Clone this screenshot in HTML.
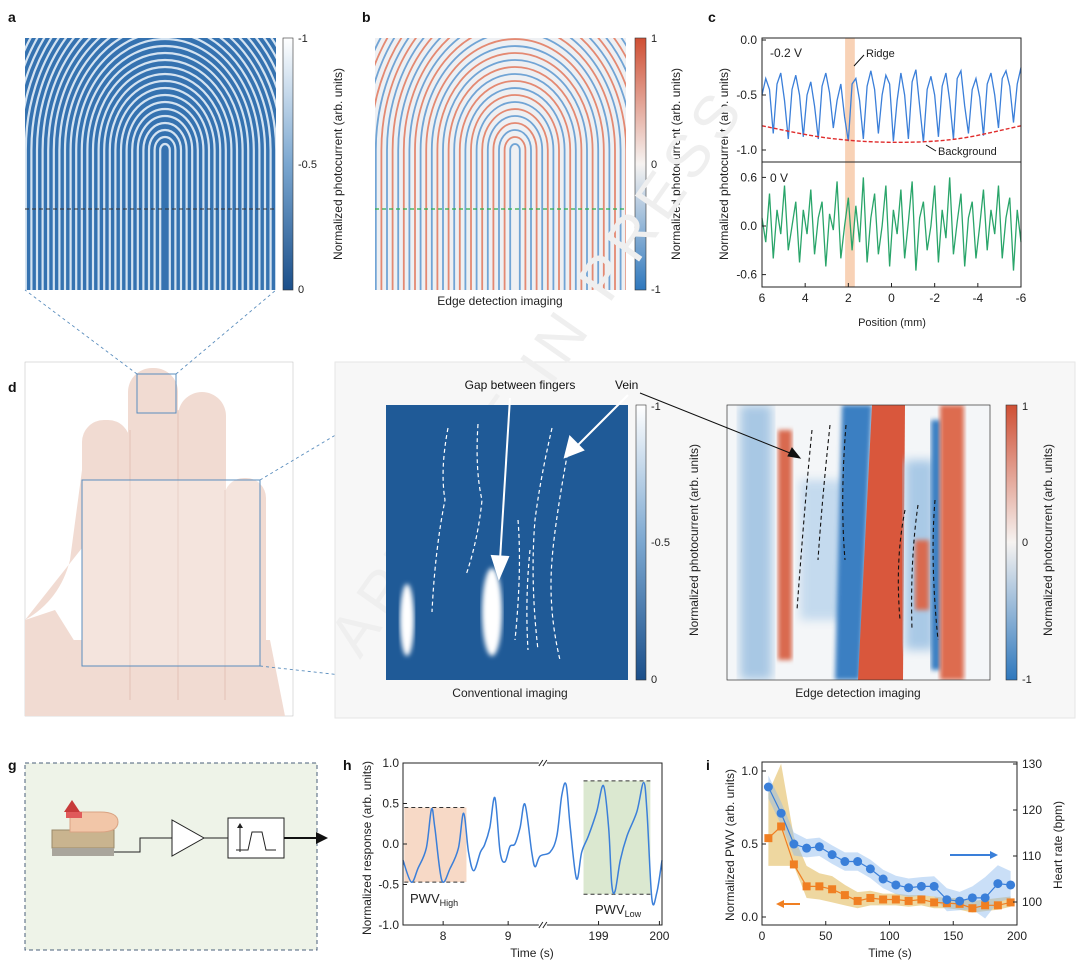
<!DOCTYPE html>
<html><head><meta charset="utf-8"><style>
body{margin:0;background:#fff;}
svg{display:block;font-family:"Liberation Sans",Arial,sans-serif;}
</style></head><body>
<svg id="fig" width="1080" height="974" viewBox="0 0 1080 974">
<defs>
<linearGradient id="cbA" x1="0" y1="0" x2="0" y2="1"><stop offset="0" stop-color="#ffffff"/><stop offset="0.5" stop-color="#7ba7d0"/><stop offset="1" stop-color="#1b4f8a"/></linearGradient>
<linearGradient id="cbB" x1="0" y1="0" x2="0" y2="1"><stop offset="0" stop-color="#cf4f34"/><stop offset="0.5" stop-color="#f6f3f1"/><stop offset="1" stop-color="#2f78bd"/></linearGradient>
<clipPath id="clipA"><rect x="25" y="38" width="251" height="252"/></clipPath>
<clipPath id="clipB"><rect x="375" y="38" width="251" height="252"/></clipPath>
<clipPath id="clipF"><rect x="727" y="405" width="263" height="275"/></clipPath>
<filter id="blur2"><feGaussianBlur stdDeviation="2.5"/></filter>
<filter id="blur4"><feGaussianBlur stdDeviation="5"/></filter>
</defs>

<!-- panel labels -->
<g font-size="14" font-weight="bold" fill="#111">
<text x="8" y="22">a</text>
<text x="362" y="22">b</text>
<text x="708" y="22">c</text>
<text x="8" y="392">d</text>
<text x="345" y="410">e</text>
<text x="700" y="410">f</text>
<text x="8" y="770">g</text>
<text x="343" y="770">h</text>
<text x="706" y="770">i</text>
</g>

<!-- panel a -->
<g>
<rect x="25" y="38" width="251" height="252" fill="#3572b0"/>
<g id="ridgesA" clip-path="url(#clipA)" fill="none" stroke="#e6f0f9" stroke-width="2.2" opacity="0.9"></g>
<line x1="25" y1="209" x2="276" y2="209" stroke="#333" stroke-dasharray="4,3" stroke-width="1"/>
</g>
<rect x="283" y="38" width="10" height="252" fill="url(#cbA)" stroke="#333" stroke-width="0.6"/>
<g font-size="11" fill="#222">
<text x="298" y="42">-1</text><text x="298" y="168">-0.5</text><text x="298" y="293">0</text>
<text transform="translate(342 164) rotate(-90)" text-anchor="middle" font-size="12">Normalized photocurrent (arb. units)</text>
</g>

<!-- panel b -->
<g>
<rect x="375" y="38" width="251" height="252" fill="#eef0f3"/>
<g id="ridgesB" clip-path="url(#clipB)" fill="none" stroke-width="1.8"></g>
<line x1="375" y1="209" x2="626" y2="209" stroke="#2fae4e" stroke-dasharray="4,3" stroke-width="1.2"/>
</g>
<rect x="635" y="38" width="11" height="252" fill="url(#cbB)" stroke="#333" stroke-width="0.6"/>
<g font-size="11" fill="#222">
<text x="651" y="42">1</text><text x="651" y="168">0</text><text x="651" y="293">-1</text>
<text transform="translate(680 164) rotate(-90)" text-anchor="middle" font-size="12">Normalized photocurrent (arb. units)</text>
<text x="500" y="305" text-anchor="middle" font-size="12">Edge detection imaging</text>
</g>

<!-- panel c -->
<g id="panelC"></g>

<!-- panel d hand -->
<g>
<rect x="25" y="362" width="268" height="354" fill="#ffffff" stroke="#bbb" stroke-width="0.5"/>
<g fill="#f1dbd2">
<path d="M25 620 Q60 600 70 560 L82 470 Q90 430 110 440 L120 500 Z"/>
<rect x="82" y="420" width="48" height="290" rx="22"/>
<rect x="128" y="368" width="50" height="340" rx="24"/>
<rect x="178" y="392" width="48" height="320" rx="24"/>
<rect x="224" y="478" width="42" height="230" rx="20"/>
<path d="M25 640 L80 640 L270 640 L285 716 L25 716 Z"/>
<path d="M25 620 L55 610 L80 650 L25 680Z"/>
</g>
<g fill="none" stroke="#dcb8ab" stroke-width="1" opacity="0.7">
<line x1="130" y1="430" x2="130" y2="700"/><line x1="178" y1="410" x2="178" y2="700"/><line x1="225" y1="490" x2="225" y2="700"/>
</g>
<rect x="137" y="374" width="39" height="39" fill="none" stroke="#5a8dbd" stroke-width="1"/>
<rect x="82" y="480" width="178" height="186" fill="rgba(255,255,255,0.25)" stroke="#5a8dbd" stroke-width="1"/>
<g stroke="#5a8dbd" stroke-dasharray="3,3" stroke-width="0.9">
<line x1="137" y1="374" x2="25" y2="290"/><line x1="176" y1="374" x2="276" y2="290"/>
<line x1="260" y1="480" x2="386" y2="405"/><line x1="260" y1="666" x2="386" y2="680"/>
</g>
</g>

<!-- gray panel -->
<rect x="335" y="362" width="740" height="356" fill="#f7f7f7" stroke="#e6e6e6"/>

<!-- watermark -->
<text x="360" y="660" transform="rotate(-55 360 660)" font-size="60" fill="#efefef" letter-spacing="8">ARTICLE IN PRESS</text>

<!-- panel e -->
<g>
<rect x="386" y="405" width="242" height="275" fill="#1f5a97"/>
<ellipse cx="407" cy="620" rx="7" ry="36" fill="#fff" filter="url(#blur2)"/>
<ellipse cx="492" cy="612" rx="10" ry="44" fill="#fff" filter="url(#blur2)"/>
<g fill="none" stroke="#fff" stroke-dasharray="4,3" stroke-width="1.2">
<path d="M448 428 Q440 470 445 500 Q435 550 432 612"/>
<path d="M478 424 Q475 470 482 500 Q478 540 466 575"/>
<path d="M518 520 Q522 570 515 640"/>
<path d="M552 428 Q540 480 535 520 Q530 580 538 650"/>
<path d="M570 440 Q555 520 552 560 Q548 610 560 660"/>
<path d="M530 550 Q525 600 528 650"/>
</g>
<g stroke="#fff" stroke-width="2" fill="#fff">
<line x1="510" y1="398" x2="500" y2="560"/><polygon points="492,556 508,557 499,578"/>
<line x1="628" y1="395" x2="578" y2="445"/><polygon points="570,437 583,450 565,457"/>
</g>
</g>
<text x="520" y="389" text-anchor="middle" font-size="12" fill="#111">Gap between fingers</text>
<text x="615" y="389" font-size="12" fill="#111">Vein</text>
<rect x="636" y="405" width="10" height="275" fill="url(#cbA)" stroke="#333" stroke-width="0.6"/>
<g font-size="11" fill="#222">
<text x="651" y="410">-1</text><text x="651" y="546">-0.5</text><text x="651" y="683">0</text>
<text x="510" y="697" text-anchor="middle" font-size="12">Conventional imaging</text>
<text transform="translate(698 540) rotate(-90)" text-anchor="middle" font-size="12">Normalized photocurrent (arb. units)</text>
</g>

<!-- panel f -->
<g clip-path="url(#clipF)">
<rect x="727" y="405" width="263" height="275" fill="#f4f6f8"/>
<rect x="740" y="405" width="32" height="275" fill="#a8c8e4" filter="url(#blur4)"/>
<rect x="778" y="430" width="14" height="230" fill="#d96a50" filter="url(#blur2)"/>
<rect x="800" y="480" width="50" height="140" fill="#c4daee" filter="url(#blur4)"/>
<path d="M842 405 L872 405 L860 680 L835 680 Z" fill="#3a7fc2" filter="url(#blur2)"/>
<path d="M872 405 L905 405 L903 680 L858 680 Z" fill="#d9573c"/>
<rect x="905" y="460" width="30" height="190" fill="#a9c9e6" filter="url(#blur4)"/>
<rect x="915" y="540" width="14" height="70" fill="#d96a50" filter="url(#blur2)"/>
<rect x="931" y="420" width="10" height="250" fill="#3a7fc2" filter="url(#blur2)"/>
<rect x="940" y="405" width="24" height="275" fill="#dd6c50" filter="url(#blur2)"/>
<g fill="none" stroke="#111" stroke-dasharray="4,3" stroke-width="1.1">
<path d="M812 430 Q805 500 797 610"/><path d="M830 425 Q822 500 818 560"/>
<path d="M846 425 Q840 500 845 560"/>
<path d="M905 510 Q895 560 900 620"/><path d="M918 505 Q910 560 912 630"/><path d="M935 500 Q930 560 938 640"/>
</g>
</g>
<rect x="727" y="405" width="263" height="275" fill="none" stroke="#333" stroke-width="0.7"/>
<g stroke="#111" stroke-width="1" fill="#111">
<line x1="640" y1="393" x2="795" y2="455"/><polygon points="800,458 788,456 792,448"/>
</g>
<rect x="1006" y="405" width="11" height="275" fill="url(#cbB)" stroke="#333" stroke-width="0.6"/>
<g font-size="11" fill="#222">
<text x="1022" y="410">1</text><text x="1022" y="546">0</text><text x="1022" y="683">-1</text>
<text x="858" y="697" text-anchor="middle" font-size="12">Edge detection imaging</text>
<text transform="translate(1052 540) rotate(-90)" text-anchor="middle" font-size="12">Normalized photocurrent (arb. units)</text>
</g>

<!-- panel g -->
<g>
<rect x="25" y="763" width="292" height="187" fill="#eef3e8" stroke="#4a5f7a" stroke-dasharray="4,3" stroke-width="1"/>
<rect x="52" y="830" width="62" height="18" fill="#c9b48f" stroke="#9b8a6a"/>
<rect x="52" y="848" width="62" height="8" fill="#a9a59c"/>
<path d="M70 812 L100 812 Q118 812 118 822 Q118 832 100 832 L70 832 Z" fill="#f2c6a8" stroke="#d9a383"/>
<path d="M72 800 L80 812 L64 812 Z" fill="#c73a3a"/>
<rect x="66" y="812" width="16" height="6" fill="#e05a5a"/>
<polyline points="114,852 140,852 140,838 172,838" fill="none" stroke="#222"/>
<polygon points="172,820 172,856 204,838" fill="#fff" stroke="#222"/>
<line x1="204" y1="838" x2="228" y2="838" stroke="#222"/>
<rect x="228" y="818" width="56" height="40" fill="#fff" stroke="#222"/>
<path d="M236 850 L248 850 L252 832 L262 832 L266 850 L276 850" fill="none" stroke="#222"/>
<line x1="240" y1="852" x2="240" y2="826" stroke="#222"/><polygon points="237,828 243,828 240,823" fill="#222"/>
<line x1="284" y1="838" x2="318" y2="838" stroke="#111" stroke-width="2"/>
<polygon points="316,832 328,838 316,844" fill="#111"/>
</g>

<g id="panelH"></g>
<g id="panelI"></g>
</svg>

<script>
// ===== Panel c data =====
const cPosStart = 6, cPosEnd = -6;
const cTopValues = [-0.5,-0.35,-0.45,-0.85,-0.4,-0.3,-0.55,-0.9,-0.45,-0.32,-0.5,-0.88,-0.5,-0.38,-0.6,-0.9,-0.42,-0.3,-0.48,-0.8,-0.55,-0.4,-0.7,-0.92,-0.4,-0.35,-0.55,-0.9,-0.42,-0.28,-0.45,-0.85,-0.5,-0.32,-0.4,-0.92,-0.55,-0.3,-0.5,-0.9,-0.38,-0.27,-0.6,-0.93,-0.45,-0.33,-0.5,-0.88,-0.42,-0.3,-0.55,-0.9,-0.35,-0.28,-0.6,-0.85,-0.45,-0.35,-0.52,-0.87,-0.4,-0.3,-0.5,-0.8,-0.35,-0.28,-0.42,-0.75,-0.4,-0.25];
const cBottomValues = [0.1,-0.2,0.4,-0.4,0.2,-0.1,0.5,-0.3,0.0,0.3,-0.45,0.2,-0.1,0.45,-0.35,0.1,0.3,-0.5,0.15,-0.05,0.55,-0.4,0.0,0.35,-0.3,0.25,-0.2,0.6,-0.45,0.1,0.4,-0.35,0.0,0.5,-0.5,0.2,-0.1,0.45,-0.4,0.05,0.55,-0.55,0.1,0.3,-0.3,0.0,0.5,-0.45,0.2,-0.15,0.6,-0.35,0.05,0.4,-0.5,0.1,0.3,-0.4,0.0,0.45,-0.3,0.2,-0.1,0.5,-0.4,0.1,0.35,-0.55,0.2,-0.2];
const cBgPos = [6,3,0,-3,-6];
const cBgVal = [-0.78,-0.89,-0.93,-0.9,-0.78];
const cXTicks = [6,4,2,0,-2,-4,-6];
const cTopTicks = [0.0,-0.5,-1.0];
const cTopTickLabels = ["0.0","-0.5","-1.0"];
const cBotTicks = [0.6,0.0,-0.6];
const cBotTickLabels = ["0.6","0.0","-0.6"];
const cRidgeBand = [2.15,1.7];

// ===== Panel h data =====
const hT = [0,3.2,5.8,9,11,12.3,15,18.2,21.4,23.4,25.3,27.3,29.9,31.5,33.5,35.5,37.5,39.4,41.3,43.2,45.2,47.1,49.7,51,52.9,56.8,59.4,61.3,63,64.6,67,69,71.6,74.8,77.4,79.4,80.6,81.9,83.9,86.5,90.3,92.9,94.2,96.1,98,100];
const hResp = [-0.2,-0.47,-0.3,-0.05,0.43,0.2,-0.45,-0.3,-0.05,0.38,-0.1,-0.33,-0.1,-0.01,0.2,0.57,-0.1,-0.22,-0.03,0.0,0.2,0.49,-0.1,-0.28,-0.15,-0.1,0.1,0.6,0.73,0.2,-0.43,-0.1,0.1,0.4,0.72,0.2,-0.5,-0.58,-0.2,0.1,0.4,0.76,0.4,-0.68,-0.6,-0.2];
const hYTicks = [1.0,0.5,0.0,-0.5,-1.0];
const hYTickLabels = ["1.0","0.5","0.0","-0.5","-1.0"];
const hXTickPos = [15.5,40.6,75.5,99];
const hXTickLabels = ["8","9","199","200"];

// ===== Panel i data =====
const iTime = [5,15,25,35,45,55,65,75,85,95,105,115,125,135,145,155,165,175,185,195];
const iPWV = [0.54,0.62,0.36,0.21,0.21,0.19,0.15,0.11,0.13,0.12,0.12,0.11,0.12,0.10,0.095,0.09,0.06,0.08,0.08,0.10];
const iPWVUpper = [0.85,1.05,0.55,0.35,0.3,0.28,0.22,0.17,0.18,0.16,0.16,0.15,0.15,0.14,0.13,0.13,0.11,0.12,0.13,0.14];
const iPWVLower = [0.35,0.35,0.35,0.13,0.12,0.1,0.08,0.06,0.08,0.08,0.08,0.07,0.08,0.06,0.06,0.05,0.03,0.04,0.05,0.07];
const iHR = [125,119.3,112.6,111.7,112,110.3,108.8,108.8,107.2,105,103.7,103.1,103.4,103.4,100.5,100.2,100.9,100.9,104,103.7];
const iHRErr = [2.5,2.5,2.5,2,2,2,2,2,2,2,2,2,2,2.2,2.5,2,2.5,4.5,4,3];
const iXTicks = [0,50,100,150,200];
const iLeftTicks = [0.0,0.5,1.0];
const iLeftTickLabels = ["0.0","0.5","1.0"];
const iRightTicks = [100,110,120,130];

const NS = "http://www.w3.org/2000/svg";
function mk(parent, tag, attrs){const e=document.createElementNS(NS,tag);for(const k in attrs)e.setAttribute(k,attrs[k]);parent.appendChild(e);return e;}
function txt(parent,x,y,s,attrs){const e=mk(parent,'text',Object.assign({x:x,y:y,'font-size':11,fill:'#222'},attrs||{}));e.textContent=s;return e;}
function smooth(pts){let d='M'+pts[0][0]+' '+pts[0][1];for(let i=0;i<pts.length-1;i++){const p0=pts[i-1]||pts[i],p1=pts[i],p2=pts[i+1],p3=pts[i+2]||p2;d+=' C'+(p1[0]+(p2[0]-p0[0])/6)+' '+(p1[1]+(p2[1]-p0[1])/6)+' '+(p2[0]-(p3[0]-p1[0])/6)+' '+(p2[1]-(p3[1]-p1[1])/6)+' '+p2[0]+' '+p2[1];}return d;}

// fingerprint textures
(function(){
  const gA=document.getElementById('ridgesA'), gB=document.getElementById('ridgesB');
  for(let i=0;i<40;i++){
    const r=6+i*7;
    const dA=`M${165-r*0.8} 330 L${165-r*0.8} 150 A${r*0.8} ${r} 0 0 1 ${165+r*0.8} 150 L${165+r*0.8} 330`;
    mk(gA,'path',{d:dA});
    const ox=350;
    const dB=`M${ox+165-r*0.8} 330 L${ox+165-r*0.8} 150 A${r*0.8} ${r} 0 0 1 ${ox+165+r*0.8} 150 L${ox+165+r*0.8} 330`;
    mk(gB,'path',{d:dB,stroke:i%2?'#e2775a':'#5b97cf',opacity:0.85});
  }
})();

// Panel c
(function(){
  const g=document.getElementById('panelC');
  const x0=762,x1=1021;
  const X=v=>x0+(cPosStart-v)/(cPosStart-cPosEnd)*(x1-x0);
  const Yt=v=>40-v*110;
  const Yb=v=>226-v*81;
  const band=mk(g,'rect',{x:X(cRidgeBand[0]),y:38,width:X(cRidgeBand[1])-X(cRidgeBand[0]),height:249,fill:'#f6c7a4',opacity:0.8});
  
  
  const n1=cTopValues.length;
  const pt=cTopValues.map((v,i)=>[X(cPosStart+(cPosEnd-cPosStart)*i/(n1-1)),Yt(v)]);
  const l1=mk(g,'path',{d:'M'+pt.map(p=>p.join(' ')).join(' L'),fill:'none',stroke:'#3b7fd9','stroke-width':1.3});
  
  
  const bg=mk(g,'path',{d:smooth(cBgPos.map((p,i)=>[X(p),Yt(cBgVal[i])])),fill:'none',stroke:'#e02c2c','stroke-width':1.4,'stroke-dasharray':'4,2'});
  
  
  const n2=cBottomValues.length;
  const pb=cBottomValues.map((v,i)=>[X(cPosStart+(cPosEnd-cPosStart)*i/(n2-1)),Yb(v)]);
  const l2=mk(g,'path',{d:'M'+pb.map(p=>p.join(' ')).join(' L'),fill:'none',stroke:'#2aa56a','stroke-width':1.3});
  
  
  mk(g,'rect',{x:x0,y:38,width:x1-x0,height:249,fill:'none',stroke:'#222'});
  mk(g,'line',{x1:x0,y1:162,x2:x1,y2:162,stroke:'#222'});
  cTopTicks.forEach((v,i)=>{mk(g,'line',{x1:x0,y1:Yt(v),x2:x0+4,y2:Yt(v),stroke:'#222'});txt(g,x0-5,Yt(v)+4,cTopTickLabels[i],{'text-anchor':'end','font-size':12});});
  cBotTicks.forEach((v,i)=>{mk(g,'line',{x1:x0,y1:Yb(v),x2:x0+4,y2:Yb(v),stroke:'#222'});txt(g,x0-5,Yb(v)+4,cBotTickLabels[i],{'text-anchor':'end','font-size':12});});
  cXTicks.forEach(v=>{mk(g,'line',{x1:X(v),y1:287,x2:X(v),y2:283,stroke:'#222'});txt(g,X(v),302,String(v),{'text-anchor':'middle','font-size':12});});
  txt(g,892,326,'Position (mm)',{'text-anchor':'middle'});
  txt(g,0,0,'Normalized photocurrent (arb. units)',{transform:'translate(728 164) rotate(-90)','text-anchor':'middle','font-size':12});
  txt(g,770,57,'-0.2 V',{'font-size':12});txt(g,770,182,'0 V',{'font-size':12});
  txt(g,866,57,'Ridge');txt(g,938,155,'Background');
  mk(g,'line',{x1:864,y1:55,x2:854,y2:66,stroke:'#111'});
  mk(g,'line',{x1:936,y1:151,x2:926,y2:145,stroke:'#111'});
})();

// Panel h
(function(){
  const g=document.getElementById('panelH');
  const x0=403,x1=662,y0=763,y1=925;
  const X=u=>x0+u/100*(x1-x0);
  const Y=v=>(y0+y1)/2-v*(y1-y0)/2;
  const r1=mk(g,'rect',{x:X(0.5),y:Y(0.45),width:X(24.5)-X(0.5),height:Y(-0.47)-Y(0.45),fill:'#f7d9c6'});
  
  
  const r2=mk(g,'rect',{x:X(69.7),y:Y(0.78),width:X(95.5)-X(69.7),height:Y(-0.62)-Y(0.78),fill:'#dbe8d0'});
  
  
  [[0.5,24.5,0.45],[0.5,24.5,-0.47],[69.7,95.5,0.78],[69.7,95.5,-0.62]].forEach(a=>mk(g,'line',{x1:X(a[0]),x2:X(a[1]),y1:Y(a[2]),y2:Y(a[2]),stroke:'#333','stroke-dasharray':'4,3'}));
  const line=mk(g,'path',{d:smooth(hT.map((t,i)=>[X(t),Y(hResp[i])])),fill:'none',stroke:'#3b7fd9','stroke-width':1.5});
  
  
  mk(g,'rect',{x:x0,y:y0,width:x1-x0,height:y1-y0,fill:'none',stroke:'#222'});
  hYTicks.forEach((v,i)=>{mk(g,'line',{x1:x0,y1:Y(v),x2:x0+4,y2:Y(v),stroke:'#222'});txt(g,x0-4,Y(v)+4,hYTickLabels[i],{'text-anchor':'end','font-size':12});});
  hXTickPos.forEach((u,i)=>{mk(g,'line',{x1:X(u),y1:y1,x2:X(u),y2:y1-4,stroke:'#222'});txt(g,X(u),y1+15,hXTickLabels[i],{'text-anchor':'middle','font-size':12});});
  [[X(54),y0],[X(54),y1]].forEach(p=>{mk(g,'rect',{x:p[0]-4,y:p[1]-4,width:8,height:8,fill:'#fff'});mk(g,'line',{x1:p[0]-4,y1:p[1]+3,x2:p[0],y2:p[1]-3,stroke:'#222'});mk(g,'line',{x1:p[0],y1:p[1]+3,x2:p[0]+4,y2:p[1]-3,stroke:'#222'});});
  txt(g,532,957,'Time (s)',{'text-anchor':'middle','font-size':12});
  txt(g,0,0,'Normalized response (arb. units)',{transform:'translate(371 848) rotate(-90)','text-anchor':'middle','font-size':12});
  const t1=txt(g,410,903,'PWV',{'font-size':13});const s1=mk(t1,'tspan',{'font-size':9,dy:3});s1.textContent='High';
  const t2=txt(g,595,914,'PWV',{'font-size':13});const s2=mk(t2,'tspan',{'font-size':9,dy:3});s2.textContent='Low';
})();

// Panel i
(function(){
  const g=document.getElementById('panelI');
  const x0=762,x1=1017,yT=762,yB=925;
  const X=t=>x0+t/200*(x1-x0);
  const YL=v=>917-v*146;
  const YR=h=>902-(h-100)*4.6;
  const ob=mk(g,'path',{d:'M'+iTime.map((t,i)=>X(t)+' '+YL(iPWVUpper[i])).join(' L')+' L'+iTime.map((t,i)=>X(t)+' '+YL(iPWVLower[i])).reverse().join(' L')+'Z',fill:'#d9a72c',opacity:0.45});
  
  
  const bb=mk(g,'path',{d:'M'+iTime.map((t,i)=>X(t)+' '+YR(iHR[i]+iHRErr[i])).join(' L')+' L'+iTime.map((t,i)=>X(t)+' '+YR(iHR[i]-iHRErr[i])).reverse().join(' L')+'Z',fill:'#8ab8ee',opacity:0.45});
  
  
  const ol=mk(g,'polyline',{points:iTime.map((t,i)=>X(t)+','+YL(iPWV[i])).join(' '),fill:'none',stroke:'#f07f22','stroke-width':1.2});
  
  
  iTime.forEach((t,i)=>{const m=mk(g,'rect',{x:X(t)-4,y:YL(iPWV[i])-4,width:8,height:8,fill:'#f07f22'});
    
    });
  const bl=mk(g,'polyline',{points:iTime.map((t,i)=>X(t)+','+YR(iHR[i])).join(' '),fill:'none',stroke:'#3a7fd9','stroke-width':1.2});
  
  
  iTime.forEach((t,i)=>{const m=mk(g,'circle',{cx:X(t),cy:YR(iHR[i]),r:4.5,fill:'#3a7fd9'});
    
    });
  mk(g,'rect',{x:x0,y:yT,width:x1-x0,height:yB-yT,fill:'none',stroke:'#222'});
  iLeftTicks.forEach((v,i)=>{mk(g,'line',{x1:x0,y1:YL(v),x2:x0+4,y2:YL(v),stroke:'#222'});txt(g,x0-4,YL(v)+4,iLeftTickLabels[i],{'text-anchor':'end','font-size':12});});
  iRightTicks.forEach(h=>{mk(g,'line',{x1:x1,y1:YR(h),x2:x1-4,y2:YR(h),stroke:'#222'});txt(g,x1+5,YR(h)+4,String(h),{'font-size':12});});
  iXTicks.forEach(t=>{mk(g,'line',{x1:X(t),y1:yB,x2:X(t),y2:yB-4,stroke:'#222'});txt(g,X(t),yB+15,String(t),{'text-anchor':'middle','font-size':12});});
  txt(g,890,957,'Time (s)',{'text-anchor':'middle','font-size':12});
  txt(g,0,0,'Normalized PWV (arb. units)',{transform:'translate(734 845) rotate(-90)','text-anchor':'middle','font-size':12});
  txt(g,0,0,'Heart rate (bpm)',{transform:'translate(1062 845) rotate(-90)','text-anchor':'middle','font-size':12});
  mk(g,'line',{x1:950,y1:855,x2:992,y2:855,stroke:'#3a7fd9','stroke-width':2});
  mk(g,'polygon',{points:'990,851 998,855 990,859',fill:'#3a7fd9'});
  mk(g,'line',{x1:782,y1:904,x2:800,y2:904,stroke:'#f07f22','stroke-width':2});
  mk(g,'polygon',{points:'784,900 776,904 784,908',fill:'#f07f22'});
})();
</script>
</body></html>
